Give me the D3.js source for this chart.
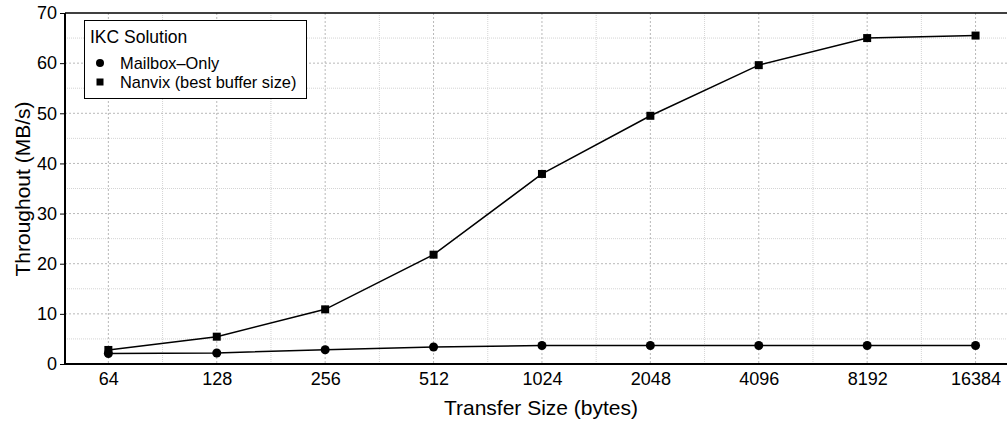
<!DOCTYPE html>
<html><head><meta charset="utf-8">
<script src="https://cdn.jsdelivr.net/npm/d3@7"></script>
<style>body{margin:0;background:#fff}svg{display:block}svg text{font-family:"Liberation Sans",Arial,sans-serif;fill:#000}</style>
</head><body>
<script>
const categories = ["64","128","256","512","1024","2048","4096","8192","16384"];
const mailboxOnly = [2.1, 2.2, 2.85, 3.4, 3.7, 3.7, 3.7, 3.7, 3.7];
const nanvix = [2.8, 5.45, 10.9, 21.8, 37.9, 49.5, 59.6, 65.0, 65.5];
const yTicks = [0,10,20,30,40,50,60,70];
const seriesNames = ["Mailbox\u2013Only", "Nanvix (best buffer size)"];
const legendTitle = "IKC Solution";

(function(){
const W = 1007, H = 421;
const svg = d3.select("body").append("svg").attr("width", W).attr("height", H);
const pLeft = 65, pTop = 13, pBottom = 364;
const step = 108.4;
const x = d3.scaleLinear().domain([0.6, 9.4]).range([pLeft, pLeft + 8.8*step]);
const y = d3.scaleLinear().domain([0,70]).range([pBottom, pTop]);
const pRight = x(9.4);

// grid
const g = svg.append("g");
const minorX = d3.range(0.5, 10, 1).filter(v => v > 0.6);
const minorY = d3.range(5, 70, 10);
g.selectAll(".mx").data(minorX).join("line").attr("x1", d=>x(d)).attr("x2", d=>x(d)).attr("y1", pTop).attr("y2", pBottom)
  .attr("stroke", "#d4d4d4").attr("stroke-width", 1).attr("stroke-dasharray", "1,1");
g.selectAll(".my").data(minorY).join("line").attr("x1", pLeft).attr("x2", pRight).attr("y1", d=>y(d)).attr("y2", d=>y(d))
  .attr("stroke", "#d4d4d4").attr("stroke-width", 1).attr("stroke-dasharray", "1,1");
g.selectAll(".Mx").data(categories).join("line").attr("x1", (d,i)=>x(i+1)).attr("x2", (d,i)=>x(i+1)).attr("y1", pTop).attr("y2", pBottom)
  .attr("stroke", "#b8b8b8").attr("stroke-width", 1).attr("stroke-dasharray", "2,2");
g.selectAll(".My").data(yTicks.slice(1,-1)).join("line").attr("x1", pLeft).attr("x2", pRight).attr("y1", d=>y(d)).attr("y2", d=>y(d))
  .attr("stroke", "#b8b8b8").attr("stroke-width", 1).attr("stroke-dasharray", "2,2");

// top border
svg.append("line").attr("x1", pLeft).attr("x2", pRight).attr("y1", pTop).attr("y2", pTop).attr("stroke", "#000").attr("stroke-width", 1.5);

// axes
const yAxis = d3.axisLeft(y).tickValues(yTicks).tickSize(5).tickPadding(3);
const ya = svg.append("g").attr("transform", `translate(${pLeft},0)`).call(yAxis);
ya.attr("font-family", null).attr("font-size", null);
ya.select(".domain").attr("stroke-width", 2).attr("d", `M0,${pTop}V${pBottom}`);
ya.selectAll("text").style("font-size", "18px");

const xAxis = d3.axisBottom(x).tickValues(categories.map((d,i)=>i+1)).tickFormat((d)=>categories[d-1]).tickSize(0).tickPadding(0);
const xa = svg.append("g").attr("transform", `translate(0,${pBottom})`).call(xAxis);
xa.attr("font-family", null).attr("font-size", null);
xa.select(".domain").attr("stroke-width", 2).attr("d", `M${pLeft-1},0H${pRight}`);
xa.selectAll("text").style("font-size", "18px").attr("dy", null).attr("y", 21);

// titles
svg.append("text").attr("x", 541).attr("y", 415).attr("text-anchor", "middle").style("font-size", "21px").text("Transfer Size (bytes)");
svg.append("text").attr("transform", "translate(30,189) rotate(-90)").attr("text-anchor", "middle").style("font-size", "21px").text("Throughout (MB/s)");

// lines
const line = d3.line().x((d,i)=>x(i+1)).y(d=>y(d));
[mailboxOnly, nanvix].forEach(s => {
  svg.append("path").attr("d", line(s)).attr("fill", "none").attr("stroke", "#000").attr("stroke-width", 1.5);
});
svg.selectAll(".c").data(mailboxOnly).join("circle").attr("cx", (d,i)=>x(i+1)).attr("cy", d=>y(d)).attr("r", 4.5).attr("fill", "#000");
svg.selectAll(".s").data(nanvix).join("rect").attr("x", (d,i)=>x(i+1)-4).attr("y", d=>y(d)-4).attr("width", 8).attr("height", 8).attr("fill", "#000");

// legend
const lg = svg.append("g");
lg.append("rect").attr("x", 84.5).attr("y", 20.5).attr("width", 222).attr("height", 78).attr("fill", "#fff").attr("stroke", "#000").attr("stroke-width", 1);
lg.append("text").attr("x", 90).attr("y", 42.5).style("font-size", "17.5px").text(legendTitle);
lg.append("circle").attr("cx", 100).attr("cy", 63).attr("r", 4).attr("fill", "#000");
lg.append("text").attr("x", 120).attr("y", 69).style("font-size", "16.4px").text(seriesNames[0]);
lg.append("rect").attr("x", 96.5).attr("y", 78.5).attr("width", 7).attr("height", 7).attr("fill", "#000");
lg.append("text").attr("x", 120).attr("y", 88).style("font-size", "16.4px").text(seriesNames[1]);
})();
</script>
</body></html>
